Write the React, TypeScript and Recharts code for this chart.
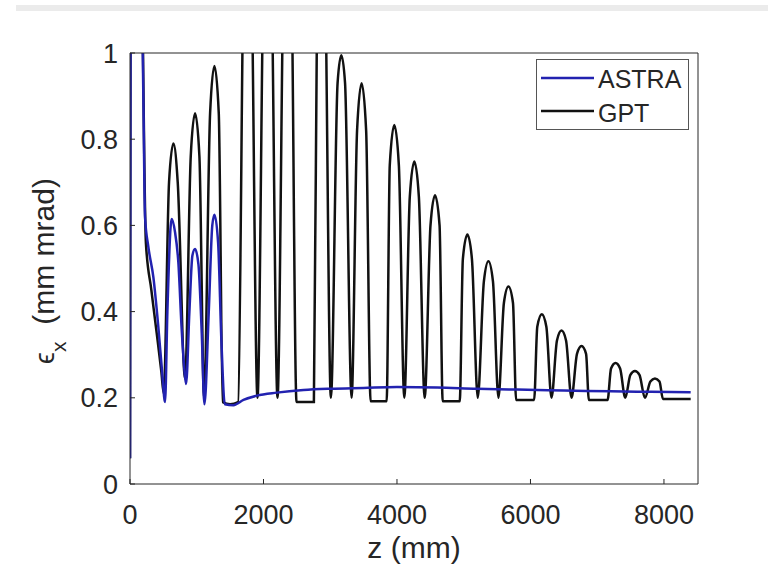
import { LineChart, Line, XAxis, YAxis, Legend } from 'recharts'

const FONT = '"Liberation Sans", Arial, Helvetica, sans-serif'
const INK = '#262626'
const BLUE = '#2222b0'
const BLACK = '#111111'

const xTicks = [0, 2000, 4000, 6000, 8000]
const yTicks = [0, 0.2, 0.4, 0.6, 0.8, 1]
const seriesNames = ['ASTRA', 'GPT']

// GPT emittance [z (mm), eps_x (mm mrad)]
const gptGun: [number, number][] = [
  [0, 0.06], [15, 1.45], [140, 1.45], [195, 1.0], [215, 0.74], [238, 0.56],
  [320, 0.45], [400, 0.35], [470, 0.26], [505, 0.21],
  [585, 0.70], [650, 0.79], [715, 0.70], [825, 0.245],
  [910, 0.76], [975, 0.86], [1040, 0.76], [1110, 0.20],
  [1200, 0.86], [1265, 0.97], [1330, 0.86], [1390, 0.19],
  [1500, 0.185], [1620, 0.19],
]
const gptBooster: [number, number][] = [
  [1705, 1.25], [1760, 1.45], [1815, 1.25], [1910, 0.2],
  [2005, 1.25], [2060, 1.45], [2115, 1.25], [2210, 0.2],
  [2305, 1.25], [2360, 1.45], [2415, 1.25], [2495, 0.19], [2755, 0.19],
  [2810, 1.25], [2863, 1.42], [2918, 1.25], [3010, 0.2],
  [3110, 0.93], [3166, 0.995], [3222, 0.93], [3320, 0.2],
  [3402, 0.82], [3470, 0.93], [3538, 0.82], [3605, 0.192], [3845, 0.192],
]
const gptLinac: [number, number][] = [
  [3892, 0.74], [3960, 0.833], [4028, 0.74], [4110, 0.2],
  [4192, 0.666], [4260, 0.748], [4328, 0.666], [4415, 0.2],
  [4502, 0.60], [4570, 0.67], [4638, 0.60], [4685, 0.192], [4940, 0.192],
  [4987, 0.522], [5055, 0.579], [5123, 0.522], [5210, 0.2],
  [5302, 0.47], [5370, 0.517], [5438, 0.47], [5520, 0.2],
  [5602, 0.42], [5670, 0.458], [5738, 0.42], [5785, 0.195], [6055, 0.195],
]
const gptTail: [number, number][] = [
  [6102, 0.365], [6170, 0.394], [6238, 0.365], [6315, 0.2],
  [6397, 0.333], [6465, 0.356], [6533, 0.333], [6615, 0.2],
  [6697, 0.302], [6765, 0.32], [6833, 0.302], [6875, 0.195], [7155, 0.195],
  [7207, 0.268], [7275, 0.281], [7343, 0.268], [7420, 0.2],
  [7497, 0.253], [7565, 0.262], [7633, 0.253], [7715, 0.2],
  [7797, 0.238], [7865, 0.245], [7933, 0.238], [7985, 0.197], [8400, 0.197],
]

// ASTRA emittance
const astraGun: [number, number][] = [
  [0, 0.06], [15, 1.45], [140, 1.45], [200, 0.9], [225, 0.62], [275, 0.55],
  [350, 0.48], [424, 0.365], [484, 0.255], [525, 0.19],
  [560, 0.4], [610, 0.6], [625, 0.615], [674, 0.585], [724, 0.515], [774, 0.36], [815, 0.265], [840, 0.232],
  [890, 0.4], [935, 0.53], [975, 0.545], [1025, 0.51], [1075, 0.35], [1115, 0.185],
  [1180, 0.4], [1233, 0.6], [1265, 0.625], [1320, 0.56], [1370, 0.33], [1420, 0.185],
]
const astraDrift: [number, number][] = [
  [1550, 0.183], [1700, 0.195], [1900, 0.205], [2200, 0.212], [2600, 0.218],
  [3000, 0.221], [3500, 0.223], [4000, 0.225], [4600, 0.224], [5200, 0.221],
  [5800, 0.219], [6500, 0.217], [7200, 0.215], [7800, 0.214], [8400, 0.213],
]

const rows = (pts: [number, number][]) => pts.map(([z, eps]) => ({ z, eps }))
const gptData = rows([...gptGun, ...gptBooster, ...gptLinac, ...gptTail])
const astraData = rows([...astraGun, ...astraDrift])

function LegendBox() {
  return (
    <svg width={154} height={72} style={{ display: 'block' }}>
      <rect x={0.5} y={0.5} width={152} height={70} fill="#fff" stroke="#555" strokeWidth={1} />
      <line x1={5} x2={58} y1={19} y2={19} stroke={BLUE} strokeWidth={2.5} />
      <line x1={5} x2={58} y1={52} y2={52} stroke={BLACK} strokeWidth={2.5} />
      <text x={62} y={29} fontSize={25} fontFamily={FONT} fill={INK}>{seriesNames[0]}</text>
      <text x={62} y={63} fontSize={25} fontFamily={FONT} fill={INK}>{seriesNames[1]}</text>
    </svg>
  )
}

const yLabel = () => (
  <text transform="translate(54,271) rotate(-90)" textAnchor="middle" fontSize={30} fontFamily={FONT} fill={INK}>
    <tspan fontSize={27}>ϵ</tspan>
    <tspan fontSize={21} dy={12}>x</tspan>
    <tspan dy={-12}>{'\u00a0\u00a0(mm mrad)'}</tspan>
  </text>
)

const xLabel = () => (
  <text x={414} y={558} textAnchor="middle" fontSize={30} fontFamily={FONT} fill={INK}>z (mm)</text>
)

export default function App() {
  const tickStyle = { fill: INK, fontSize: 27, fontFamily: FONT }
  return (
    <div style={{ position: 'absolute', left: 0, top: 0, width: 768, height: 569, background: '#fff' }}>
      <div style={{ position: 'absolute', left: 16, top: 5, width: 752, height: 6, background: '#ebebeb' }} />
      <LineChart width={768} height={569} margin={{ top: 52, right: 69, bottom: 0, left: 0 }}>
        <XAxis xAxisId="b" dataKey="z" type="number" domain={[0, 8510]} ticks={xTicks} interval={0}
          allowDataOverflow height={85} tickSize={-5} tickMargin={26}
          axisLine={{ stroke: INK }} tickLine={{ stroke: INK }} tick={tickStyle} label={xLabel} />
        <XAxis xAxisId="t" orientation="top" type="number" domain={[0, 8510]} ticks={xTicks} interval={0}
          height={1} tickSize={-5} tick={false} axisLine={{ stroke: INK }} tickLine={{ stroke: INK }} />
        <YAxis yAxisId="l" type="number" domain={[0, 1]} ticks={yTicks} interval={0} allowDataOverflow
          width={130} tickSize={-5} tickMargin={17}
          axisLine={{ stroke: INK }} tickLine={{ stroke: INK }} tick={tickStyle} label={yLabel} />
        <YAxis yAxisId="r" orientation="right" type="number" domain={[0, 1]} ticks={yTicks} interval={0}
          width={1} tickSize={-5} tick={false} axisLine={{ stroke: INK }} tickLine={{ stroke: INK }} />
        <Line xAxisId="b" yAxisId="l" data={gptData} dataKey="eps" name="GPT" type="monotone"
          stroke={BLACK} strokeWidth={2.5} dot={false} isAnimationActive={false} />
        <Line xAxisId="b" yAxisId="l" data={astraData} dataKey="eps" name="ASTRA" type="monotone"
          stroke={BLUE} strokeWidth={2.5} dot={false} isAnimationActive={false} />
        <Legend layout="horizontal" verticalAlign="middle" align="center" content={LegendBox}
          wrapperStyle={{ left: 536, top: 59, width: 154, height: 72 }} />
      </LineChart>
    </div>
  )
}
